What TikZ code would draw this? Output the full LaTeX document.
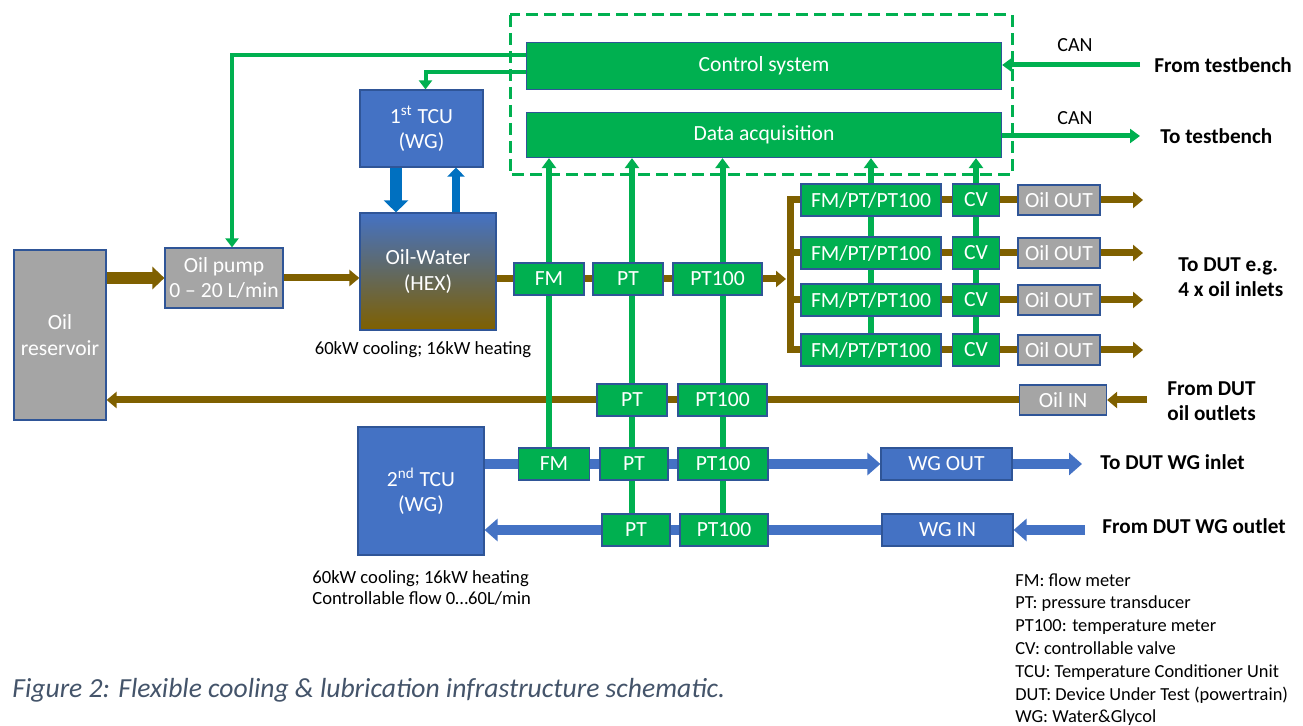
\documentclass[tikz,border=0pt]{standalone}
\usepackage{fontspec}
\setmainfont{Carlito}
\usetikzlibrary{arrows.meta,backgrounds}
\definecolor{sgreen}{HTML}{00B050}
\definecolor{tcublue}{HTML}{4472C4}
\definecolor{arrblue}{HTML}{0070C0}
\definecolor{oilbrown}{HTML}{7F6000}
\definecolor{boxgray}{HTML}{A5A5A5}
\definecolor{edge}{HTML}{2F5597}
\definecolor{capt}{HTML}{44546A}

\begin{document}
\begin{tikzpicture}[x=0.5pt,y=-0.5pt,
  box/.style={draw=edge,line width=0.6pt,inner sep=0pt,text=white,align=center,
    font=\fontsize{10.8}{12.6}\selectfont},
  sens/.style={box,fill=sgreen,minimum height=16pt},
  port/.style={box,fill=boxgray,minimum height=15pt},
  unit/.style={box,fill=tcublue},
  lab/.style={inner sep=0pt,anchor=west,align=left,font=\fontsize{10.6}{12.5}\bfseries\selectfont},
  note/.style={inner sep=0pt,align=left,font=\fontsize{9.3}{10.8}\selectfont},
  oil/.style={draw=oilbrown,line width=3.5pt},
  wg/.style={draw=tcublue,line width=5pt},
  sig/.style={draw=sgreen,line width=3pt},
  ctl/.style={draw=sgreen,line width=2pt,-{Triangle[width=6.5pt,length=4.5pt]}},
  can/.style={draw=sgreen,line width=2.5pt,-{Triangle[width=7pt,length=5pt]}},
  oiltip/.style={-{Triangle[width=8pt,length=5pt]}},
  wgtip/.style={-{Triangle[width=11pt,length=6.5pt]}},
  sigtip/.style={-{Triangle[width=7pt,length=5pt]}},
  frame/.style={draw=sgreen,line width=1.5pt,dash pattern=on 6pt off 3pt}]
  \useasboundingbox (0,0) rectangle (1303,726);

  % control and acquisition
  \node[sens,minimum width=237.5pt,minimum height=23.5pt] (ctrl) at (764,66) {Control system};
  \node[sens,minimum width=237.5pt,minimum height=22.5pt] (daq) at (764,135) {Data acquisition};
  \node[font=\fontsize{10}{12}\selectfont] (canA) at (1075,45) {CAN};
  \node[font=\fontsize{10}{12}\selectfont] (canB) at (1075,118) {CAN};
  \node[lab] (fromtb) at (1154,65) {From testbench};
  \node[lab] (totb) at (1160,136) {To testbench};

  % oil side
  \node[port,minimum width=46pt,minimum height=85pt] (res) at (60,335) {Oil\\reservoir};
  \node[port,minimum width=59pt,minimum height=30pt] (pump) at (224,278) {Oil pump\\0 -- 20 L/min};
  \node[unit,minimum width=61.5pt,minimum height=38.5pt] (tcuA) at (421.5,128.5) {1\textsuperscript{st} TCU\\(WG)};
  \node[box,top color=tcublue,bottom color=oilbrown,minimum width=68pt,minimum height=58.5pt] (hex) at (428,271.5) {Oil-Water\\(HEX)};
  \node[note] (hexnote) at (423,350) {60kW cooling; 16kW heating};
  \node[sens,minimum width=35pt] (fmo) at (549,279) {FM};
  \node[sens,minimum width=35pt] (pto) at (628,279) {PT};
  \node[sens,minimum width=44.5pt] (pt100o) at (717.5,279) {PT100};
  \coordinate (split) at (790,279);
  \foreach \r/\y in {1/200,2/253,3/300,4/350} {
    \node[sens,minimum width=70pt] (fpp\r) at (871,\y) {FM/PT/PT100};
    \node[sens,minimum width=23.5pt] (cv\r) at (976,\y) {CV};
    \node[port,minimum width=41pt] (out\r) at (1059,\y) {Oil OUT};
    \coordinate (end\r) at (1143,\y);
  }
  \node[lab] (toDUT) at (1178,277) {To DUT e.g.\\4 x oil inlets};

  % oil return
  \node[sens,minimum width=35pt] (ptr) at (632,400) {PT};
  \node[sens,minimum width=44.5pt] (pt100r) at (722.5,400) {PT100};
  \node[port,minimum width=43.5pt] (oilin) at (1063,400) {Oil IN};
  \coordinate (inend) at (1147,400);
  \node[lab] (fromDUT) at (1167,401) {From DUT\\oil outlets};

  % water-glycol side
  \node[unit,minimum width=63pt,minimum height=64pt] (tcuB) at (421,491) {2\textsuperscript{nd} TCU\\(WG)};
  \node[sens,minimum width=35.5pt] (fmw) at (554,464) {FM};
  \node[sens,minimum width=34pt] (ptw) at (634,464) {PT};
  \node[sens,minimum width=45pt] (pt100w) at (723,464) {PT100};
  \node[unit,minimum width=65.5pt,minimum height=16pt] (wgout) at (946.5,464) {WG OUT};
  \coordinate (wgend) at (1082,464);
  \node[lab] (towg) at (1100,462) {To DUT WG inlet};
  \node[sens,minimum width=34pt] (ptwi) at (636,530) {PT};
  \node[sens,minimum width=44pt] (pt100wi) at (724,530) {PT100};
  \node[unit,minimum width=65.5pt,minimum height=16pt] (wgin) at (947.5,530) {WG IN};
  \coordinate (wgstart) at (1085,530);
  \node[lab] (fromwg) at (1102,526) {From DUT WG outlet};
  \node[note,anchor=west] (tcunote) at (312,588) {60kW cooling; 16kW heating\\Controllable flow 0\dots60L/min};

  % legend and caption
  \node[note,anchor=north west,font=\fontsize{9.2}{11.4}\selectfont] (legend) at (1015,573)
    {FM: flow meter\\PT: pressure transducer\\PT100: temperature meter\\CV: controllable valve\\
     TCU: Temperature Conditioner Unit\\DUT: Device Under Test (powertrain)\\WG: Water\&Glycol};
  \node[inner sep=0pt,anchor=west,text=capt,font=\fontsize{13.8}{16}\itshape\selectfont] (caption) at (12,690)
    {Figure 2: Flexible cooling \& lubrication infrastructure schematic.};

  \begin{pgfonlayer}{background}
    \draw[frame] (510,15) rectangle (1012,175);
    % oil pipes
    \draw[draw=oilbrown,line width=6pt,-{Triangle[width=11pt,length=6pt]}] (res.east |- pump) -- (pump.west);
    \draw[oil,oiltip] (pump.east) -- (hex.west |- pump);
    \draw[oil,oiltip] (hex.east |- fmo) -- ([xshift=-2pt]split);
    \draw[oil] (fpp1.west) -| (split) |- (fpp4.west);
    \foreach \r in {1,2,3,4} {
      \draw[oil] (split |- fpp\r) -- (out\r.west);
      \draw[oil,oiltip] (out\r.east) -- (end\r);
    }
    \draw[oil,oiltip] (oilin.west) -- (res.east |- oilin);
    \draw[oil,oiltip] (inend) -- (oilin.east);
    % water-glycol pipes
    \draw[wg,wgtip] (tcuB.east |- fmw) -- (wgout.west);
    \draw[wg,wgtip] (wgout.east) -- (wgend);
    \draw[wg,wgtip] (wgin.west) -- (tcuB.east |- wgin);
    \draw[wg,wgtip] (wgstart) -- (wgin.east);
    \coordinate (dn) at ([xshift=-12.75pt]tcuA.south);
    \coordinate (up) at ([xshift=17.25pt]hex.north -| tcuA.south);
    \draw[draw=arrblue,line width=6pt,-{Triangle[width=12pt,length=6pt]}] (dn) -- (dn |- hex.north);
    \draw[draw=arrblue,line width=4pt,-{Triangle[width=8.5pt,length=4.5pt]}] (up) -- (up |- tcuA.south);
    % signals
    \foreach \a/\b in {fmo/fmw,ptr/ptwi,pt100r/pt100wi,fpp4/fpp4,cv4/cv4}
      \draw[sig,sigtip] (\a |- \b.north) -- (\a |- daq.south);
    \draw[ctl] ([yshift=5.5pt]ctrl.west) -| ([xshift=4pt]pump.north);
    \draw[ctl] ([yshift=-3pt]ctrl.west) -| ([xshift=2pt]tcuA.north);
    \draw[can,shorten <=7pt] (fromtb.west) -- (ctrl.east |- fromtb.west);
    \draw[can,shorten >=10pt] (daq.east |- totb.west) -- (totb.west);
  \end{pgfonlayer}
\end{tikzpicture}
\end{document}
